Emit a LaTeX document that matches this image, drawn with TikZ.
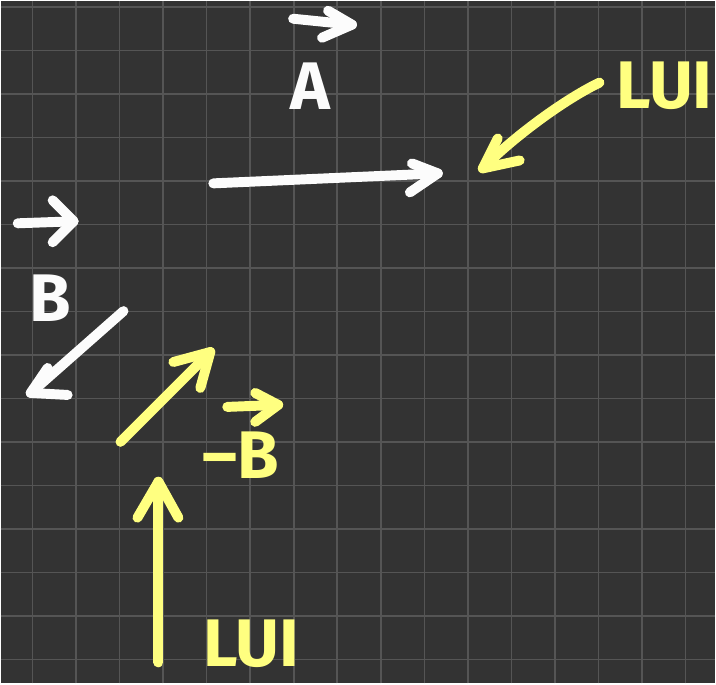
\documentclass[tikz,border=0pt]{standalone}
\usepackage{fontspec}
\setmainfont{Fira Sans}
\definecolor{board}{RGB}{51,51,51}
\definecolor{gridline}{RGB}{85,85,85}
\definecolor{chalk}{RGB}{252,252,252}
\definecolor{marker}{RGB}{255,255,128}
\tikzset{
  stroke/.style={line width=6.5pt,line cap=round,line join=round},
  lbl/.style={inner sep=0pt,font=\fontsize{44}{44}\selectfont\bfseries}
}
\begin{document}
\begin{tikzpicture}
  \fill[board] (0,0) rectangle (16.422,15.688);
  \foreach \x in {0,...,15}
    \draw[gridline,line width=1pt] (0.734+\x,0) -- (0.734+\x,15.688);
  \foreach \y in {0,...,15}
    \draw[gridline,line width=1pt] (0,0.55+\y) -- (16.422,0.55+\y);

  % vector A
  \draw[stroke,chalk] (4.885,11.491) -- (10.046,11.720);
  \draw[stroke,chalk] (9.450,11.950) -- (10.046,11.720) -- (9.404,11.284);
  \node[lbl,chalk] (labA) at (7.110,13.716) {A};
  \draw[stroke,chalk] (6.720,15.275) -- (8.073,15.138);
  \draw[stroke,chalk] (7.523,15.459) -- (8.073,15.138) -- (7.385,14.839);

  % vector B
  \draw[stroke,chalk] (2.821,8.555) -- (0.688,6.674);
  \draw[stroke,chalk] (1.078,7.248) -- (0.688,6.674) -- (1.537,6.628);
  \node[lbl,chalk] (labB) at (1.147,8.853) {B};
  \draw[stroke,chalk] (0.390,10.573) -- (1.674,10.619);
  \draw[stroke,chalk] (1.193,11.101) -- (1.674,10.619) -- (1.193,10.138);

  % vector -B
  \draw[stroke,marker] (2.752,5.550) -- (4.817,7.615);
  \draw[stroke,marker] (3.968,7.385) -- (4.817,7.615) -- (4.587,6.789);
  \node[lbl,marker] (labNegB) at (5.505,5.252) {–B};
  \draw[stroke,marker] (5.206,6.353) -- (6.376,6.399);
  \draw[stroke,marker] (5.849,6.674) -- (6.376,6.399) -- (5.849,6.009);

  % LUI notes
  \node[lbl,marker] (luiTop) at (15.252,13.739) {LUI};
  \draw[stroke,marker] (13.761,13.807) .. controls (12.86,13.37) and (11.68,12.46) .. (11.078,11.835);
  \draw[stroke,marker] (11.422,12.523) -- (11.078,11.835) -- (11.927,12.018);

  \node[lbl,marker] (luiBot) at (5.757,0.92) {LUI};
  \draw[stroke,marker] (3.624,0.482) -- (3.624,4.633);
  \draw[stroke,marker] (3.142,3.807) -- (3.624,4.633) -- (4.083,3.807);
\end{tikzpicture}
\end{document}
